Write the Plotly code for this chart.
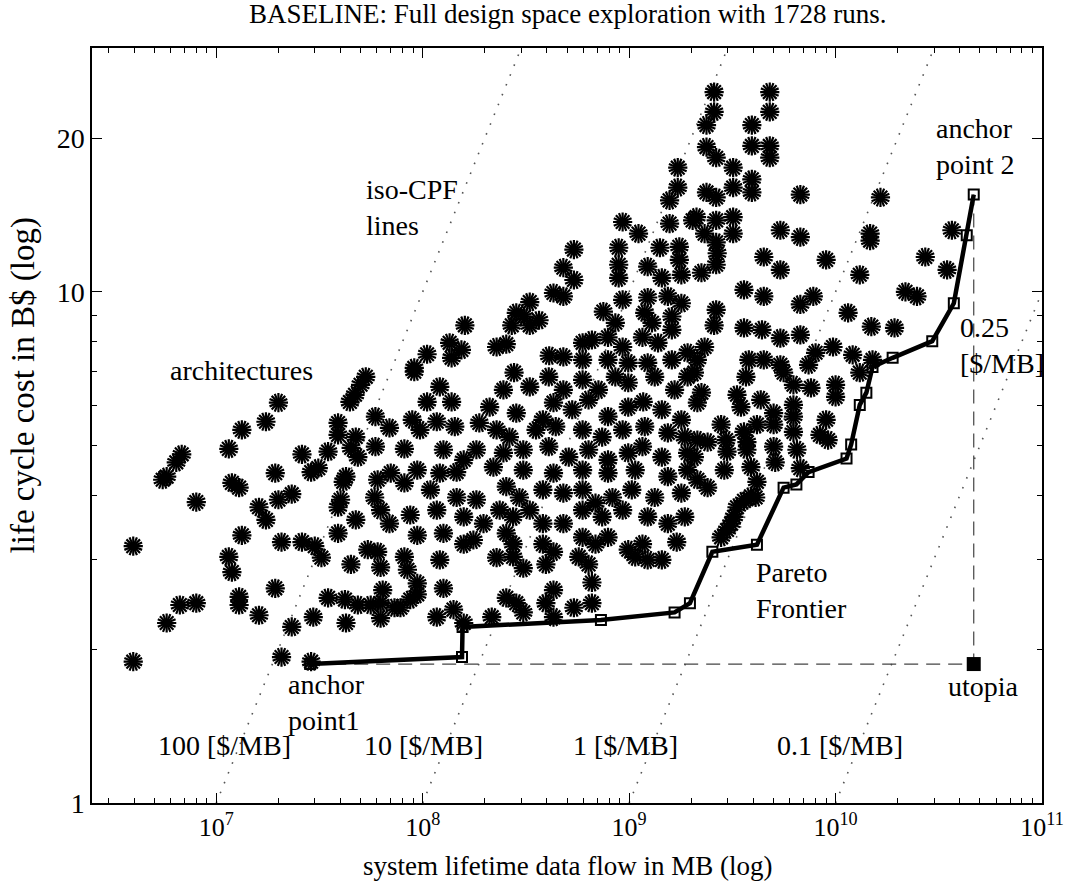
import plotly.graph_objects as go

# ---------------- data ----------------
# design-space architectures: system lifetime data flow [MB] and life cycle cost [B$]
arch_flow = [
    1.72e9, 1.72e9, 1.57e9, 9.3e8, 1.57e9, 2.03e9, 1.11e9, 5.4e8, 8.9e8, 1.41e9,
    1.75e9, 1.75e9, 8.9e8, 1.23e9, 4.8e8, 5.4e8, 8.9e8, 1.44e9, 1.79e9, 4.3e8,
    4.8e8, 9.3e8, 1.23e9, 1.54e9, 1.79e9, 3.3e8, 2.84e8, 3.1e8, 3.66e8, 2.7e8,
    3.3e8, 7.5e8, 8.57e8, 1.19e9, 1.29e9, 1.61e9, 1.6e8, 1.35e8, 1.54e8, 1.38e8,
    1.05e8, 2.28e8, 2.54e8, 9.1e7, 6.6e8, 5.95e8, 7.9e8, 9.3e8, 1.16e9, 1.38e9,
    1.61e9, 4.1e8, 4.8e8, 5.95e8, 7.9e8, 9.9e8, 1.23e9, 1.61e9, 1.92e9,
    2.58e9, 4.8e9, 4.8e9, 2.58e9, 2.37e9, 3.93e9, 2.37e9, 3.93e9, 4.8e9, 4.8e9,
    2.64e9, 3.19e9, 3.93e9, 3.19e9, 3.93e9, 2.37e9, 2.64e9, 6.75e9, 1.65e10, 2.12e9,
    2.64e9, 3.19e9, 3.19e9, 2.32e9, 2.64e9, 5.4e9, 6.75e9, 1.47e10, 1.47e10, 2.67e9,
    2.64e9, 4.49e9, 5.4e9, 9.0e9, 1.31e10, 2.72e10, 3.47e10, 3.66e10, 2.24e9, 3.6e9,
    4.49e9, 6.75e9, 7.8e9, 2.18e10, 2.48e10, 2.64e9, 1.15e10, 2.58e9, 3.6e9, 4.4e9,
    5.4e9, 6.75e9, 1.49e10, 1.93e10, 2.32e9, 2.14e9, 9.72e9, 8.0e9, 3.8e9, 4.49e9,
    5.4e9, 7.4e9, 1.21e10, 1.51e10,
    5.3e7, 5.0e7, 4.7e7, 4.44e7, 2.0e7, 1.74e7, 1.33e7, 1.15e7, 6.8e6, 6.4e6,
    5.75e6, 5.5e6, 3.89e7, 3.89e7, 4.74e7, 4.5e7, 4.85e7, 5.9e7, 6.9e7, 5.9e7,
    3.48e7, 2.6e7, 3.12e7, 2.88e7, 1.93e7, 4.25e7, 4.12e7, 1.19e7, 1.29e7, 8.0e6,
    1.61e7, 2.0e7, 2.32e7, 1.74e7, 4.0e7, 3.89e7, 7.0e7, 6.05e7, 5.85e7, 6.25e7,
    6.9e7, 4.74e7, 3.89e7, 1.33e7, 2.07e7, 2.6e7, 3.0e7, 3.23e7, 3.96e6, 1.15e7,
    1.19e7, 4.49e7, 5.42e7, 6.05e7, 6.25e7, 1.93e7, 1.29e7, 1.29e7, 6.66e6, 8.0e6,
    1.61e7, 3.48e7, 4.2e7, 4.85e7, 5.6e7, 6.4e7, 6.25e7, 7.3e7, 6.25e7, 2.95e7,
    4.25e7, 2.32e7, 5.75e6, 2.07e7, 3.96e6, 2.88e7,
    9.1e7, 2.77e8, 1.21e8, 1.05e8, 1.38e8, 2.46e8, 3.3e8, 4.08e8, 4.8e8, 5.95e8,
    7.1e8, 8.57e8, 9.9e8, 1.33e9, 1.66e9, 1.92e9, 2.11e8, 2.84e8, 3.82e8, 4.3e8,
    5.3e8, 6.36e8, 7.9e8, 9.9e8, 1.17e9, 1.44e9, 1.79e9, 8.9e7, 9.7e7, 1.17e8,
    1.43e8, 1.88e8, 2.28e8, 2.63e8, 3.54e8, 4.41e8, 5.95e8, 7.4e8, 9.3e8, 1.19e9,
    1.54e9, 1.86e9, 8.15e7, 1.26e8, 1.58e8, 1.82e8, 2.46e8, 3.07e8, 4.08e8, 5.1e8,
    6.36e8, 7.9e8, 9.9e8, 1.16e9, 1.44e9, 1.92e9, 9.41e7, 1.21e8, 1.46e8, 2.2e8,
    3.07e8, 4.3e8, 5.95e8, 7.9e8, 1.07e9, 1.54e9, 1.92e9, 8.15e7, 1.09e8, 1.46e8,
    1.82e8, 2.54e8, 2.94e8, 3.82e8, 4.8e8, 5.95e8, 6.87e8, 8.3e8, 1.03e9, 1.33e9,
    1.79e9, 8.7e7, 1.17e8, 1.58e8, 1.97e8, 2.36e8, 2.74e8, 3.3e8, 3.82e8, 4.8e8,
    5.95e8, 7.4e8, 9.3e8, 1.23e9, 1.54e9, 1.86e9, 9.41e7, 1.26e8, 1.58e8, 1.76e8,
    2.54e8, 2.74e8, 3.82e8, 4.3e8, 5.95e8, 6.87e8, 7.9e8, 9.9e8, 1.16e9, 1.44e9,
    1.7e9, 8.15e7, 1.21e8, 2.28e8, 2.74e8, 3.07e8, 3.95e8, 5.7e8, 6.36e8, 1.07e9,
    1.23e9, 8.43e7, 9.41e7, 1.26e8, 6.6e8, 8.7e7, 9.41e7, 7.8e7, 1.41e8, 1.17e8,
    2.54e8, 2.84e8, 3.07e8, 2.16e8, 4.3e8, 3.95e8, 4.3e8, 5.4e8, 6.6e8, 1.58e8,
    2.07e9, 3.68e9, 5.6e9, 1.31e10, 2.24e9, 3.33e9, 4.34e9, 6.25e9, 7.6e9, 1.0e10,
    1.0e10, 2.14e9, 3.48e9, 5.01e9, 6.25e9, 6.25e9, 9.0e9, 2.79e9, 3.6e9, 4.16e9,
    5.01e9, 6.25e9, 8.4e9, 9.2e9, 2.14e9, 2.4e9, 2.95e9, 3.72e9, 2.98e9, 3.72e9,
    6.5e9, 2.07e9, 2.89e9, 3.89e9, 5.1e9, 6.75e9, 2.14e9, 2.4e9, 4.16e9, 4.1e9,
    3.33e9, 3.22e9, 3.12e9, 2.98e9, 2.79e9, 3.6e9, 3.89e9, 5.01e9,
]
arch_cost = [
    17.5, 16.0, 15.1, 13.7, 13.6, 13.8, 13.0, 12.1, 12.2, 12.2,
    12.25, 11.55, 11.3, 11.2, 11.15, 10.55, 10.65, 10.65, 10.8, 9.95,
    9.8, 9.65, 9.75, 9.8, 9.5, 9.55, 9.1, 8.95, 8.8, 8.6,
    8.6, 9.15, 8.7, 9.1, 8.7, 8.95, 8.6, 7.95, 7.7, 7.43,
    7.55, 7.8, 7.9, 7.1, 8.05, 7.95, 8.15, 7.8, 8.15, 7.95,
    8.43, 7.5, 7.46, 7.36, 7.36, 7.26, 7.26, 7.36, 7.6,
    24.6, 24.6, 22.5, 22.5, 21.2, 21.2, 19.2, 19.3, 19.3, 18.3,
    18.3, 17.5, 16.6, 16.0, 15.65, 15.65, 15.3, 15.5, 15.3, 14.0,
    13.8, 14.0, 13.0, 13.0, 12.5, 13.2, 12.8, 13.0, 12.6, 11.9,
    11.3, 11.7, 11.04, 11.55, 10.8, 11.7, 11.04, 13.2, 10.9, 10.09,
    9.8, 9.45, 9.8, 10.0, 9.8, 9.22, 9.1, 8.6, 8.5, 8.43,
    8.12, 8.24, 8.55, 8.5, 7.8, 7.36, 7.8, 7.6, 7.36, 7.36,
    7.2, 7.2, 7.53, 7.36,
    6.82, 6.58, 6.29, 6.09, 6.07, 5.57, 5.37, 4.93, 4.81, 4.64,
    4.35, 4.29, 5.54, 5.25, 5.2, 4.95, 4.75, 5.7, 5.42, 4.98,
    4.87, 4.81, 4.52, 4.44, 4.42, 4.35, 4.25, 4.23, 4.14, 3.88,
    3.79, 3.92, 4.02, 3.58, 3.92, 3.79, 4.42, 4.29, 3.96, 3.74,
    3.52, 3.58, 3.37, 3.34, 3.24, 3.24, 3.18, 3.02, 3.18, 3.03,
    2.83, 2.93, 3.13, 3.1, 2.89, 2.63, 2.53, 2.44, 2.44, 2.46,
    2.33, 2.52, 2.5, 2.44, 2.44, 2.61, 2.46, 2.41, 2.3, 2.31,
    2.25, 2.21, 2.25, 1.93, 1.89, 1.89,
    6.98, 6.95, 6.52, 6.09, 6.09, 6.43, 6.52, 6.82, 6.43, 6.73,
    6.43, 6.82, 6.64, 6.82, 6.43, 6.82, 5.95, 5.79, 5.62, 6.07,
    5.88, 6.15, 5.7, 5.95, 6.09, 5.88, 5.62, 5.62, 5.37, 5.57,
    5.45, 5.54, 5.37, 5.2, 5.37, 5.45, 5.37, 5.2, 5.37, 5.45,
    5.3, 5.2, 4.93, 4.91, 4.69, 4.91, 4.84, 4.91, 4.98, 4.75,
    4.91, 4.69, 4.84, 4.98, 4.75, 4.84, 4.48, 4.42, 4.44, 4.54,
    4.48, 4.42, 4.48, 4.42, 4.48, 4.35, 4.48, 4.23, 4.1, 3.96,
    3.92, 4.16, 3.96, 4.1, 4.04, 4.1, 3.86, 3.96, 4.1, 3.96,
    4.04, 3.66, 3.74, 3.63, 3.52, 3.74, 3.63, 3.74, 3.52, 3.52,
    3.74, 3.63, 3.74, 3.63, 3.52, 3.63, 3.34, 3.37, 3.21, 3.27,
    3.37, 3.21, 3.21, 3.1, 3.31, 3.21, 3.31, 3.13, 3.21, 2.99,
    3.24, 3.03, 2.99, 3.02, 3.03, 2.88, 2.93, 3.03, 2.93, 3.03,
    2.99, 2.86, 2.69, 2.63, 2.7, 2.5, 2.56, 2.41, 2.39, 2.31,
    2.52, 2.46, 2.36, 2.31, 2.61, 2.46, 2.31, 2.41, 2.46, 2.25,
    6.95, 6.82, 6.95, 6.95, 6.35, 6.29, 6.15, 6.58, 6.49, 6.58,
    6.23, 6.07, 5.95, 5.79, 6.01, 5.7, 5.62, 5.5, 5.32, 5.5,
    5.5, 5.32, 5.25, 5.13, 5.13, 5.08, 5.13, 5.08, 4.87, 4.91,
    4.91, 4.75, 4.48, 4.54, 4.64, 4.52, 4.29, 4.14, 4.25, 3.96,
    3.79, 3.63, 3.52, 3.42, 3.31, 3.9, 3.98, 4.98,
]

# Pareto frontier (non-dominated architectures), anchor point1 -> anchor point 2
pareto_flow = [2.85e7, 1.55e8, 1.56e8, 7.3e8, 1.66e9, 1.97e9, 2.53e9, 4.16e9, 5.6e9,
               6.46e9, 7.4e9, 1.13e10, 1.19e10, 1.31e10, 1.41e10, 1.51e10, 1.89e10,
               2.94e10, 3.74e10, 4.32e10, 4.67e10]
pareto_cost = [1.87, 1.93, 2.21, 2.28, 2.36, 2.46, 3.1, 3.2, 4.14,
               4.2, 4.44, 4.72, 5.03, 6.01, 6.35, 7.13, 7.43,
               8.01, 9.5, 12.9, 15.5]

# utopia point (best flow of anchor 2, best cost of anchor 1)
utopia_flow = 4.67e10
utopia_cost = 1.87

# iso cost-per-function lines [$ / MB]
cpf_values = [100, 10, 1, 0.1]
cpf_labels = ["100 [$/MB]", "10 [$/MB]", "1 [$/MB]", "0.1 [$/MB]"]

# axis ticks
x_tick_vals = [1e7, 1e8, 1e9, 1e10, 1e11]
x_tick_text = ["10<sup>7</sup>", "10<sup>8</sup>", "10<sup>9</sup>", "10<sup>10</sup>", "10<sup>11</sup>"]
y_tick_vals = [1, 10, 20]
y_tick_text = ["1", "10", "20"]

X_MIN, X_MAX = 2.5e6, 1e11
Y_MIN, Y_MAX = 1, 30

# ---------------- figure ----------------
W, H = 1076, 885
L, R, T, B = 92, 28, 48, 82
FONT = "Liberation Serif"

fig = go.Figure()

# iso-CPF dotted lines: cost[B$] = cpf[$/MB] * flow[MB] / 1e9
for c in cpf_values:
    ys = [Y_MIN, Y_MAX]
    xs = [y * 1e9 / c for y in ys]
    fig.add_trace(go.Scatter(x=xs, y=ys, mode="lines",
                             line=dict(color="#555555", width=1.6, dash="1.6px,9px"),
                             hoverinfo="skip", showlegend=False))

# dashed lines to utopia point
fig.add_trace(go.Scatter(x=[pareto_flow[0], utopia_flow, utopia_flow],
                         y=[pareto_cost[0], utopia_cost, pareto_cost[-1]],
                         mode="lines", line=dict(color="#444444", width=1.2, dash="14px,8px"),
                         showlegend=False))

# architectures: heavy star-like asterisks (two rotated asterisks + solid core)
for ang in (0, 22.5):
    fig.add_trace(go.Scatter(x=arch_flow, y=arch_cost, mode="markers",
                             marker=dict(symbol="asterisk-open", size=16, color="black", angle=ang,
                                         line=dict(width=2.2, color="black")),
                             hoverinfo="skip" if ang else None, showlegend=False))
fig.add_trace(go.Scatter(x=arch_flow, y=arch_cost, mode="markers",
                         marker=dict(symbol="circle", size=8, color="black"),
                         hoverinfo="skip", showlegend=False))

# Pareto frontier
fig.add_trace(go.Scatter(x=pareto_flow, y=pareto_cost, mode="lines+markers",
                         line=dict(color="black", width=4.5),
                         marker=dict(symbol="square-open", size=10, color="black",
                                     line=dict(width=2, color="black")),
                         showlegend=False))

# utopia
fig.add_trace(go.Scatter(x=[utopia_flow], y=[utopia_cost], mode="markers",
                         marker=dict(symbol="square", size=14, color="black"),
                         showlegend=False))

pw, ph = W - L - R, H - T - B


def px(xp):
    return (xp - L) / pw


def py(yp):
    return (H - B - yp) / ph


annos = [
    ("iso-CPF<br>lines", 366, 208),
    ("architectures", 168, 370),
    ("anchor<br>point 2", 939, 147),
    ("0.25<br>[$/MB]", 963, 345),
    ("Pareto<br>Frontier", 758, 590),
    ("anchor<br>point1", 287, 702),
    ("utopia", 951, 686),
]
label_x = [156, 364, 574, 779]
for t, xl in zip(cpf_labels, label_x):
    annos.append((t, xl, 745))

annotations = []
for t, xa, ya in annos:
    annotations.append(dict(text=t, x=px(xa), y=py(ya), xref="paper", yref="paper",
                            xanchor="left", yanchor="middle", align="left", showarrow=False,
                            font=dict(family=FONT, size=28, color="black")))

# axis titles
annotations.append(dict(text="system lifetime data flow in MB (log)", x=0.5, y=py(866),
                        xref="paper", yref="paper", xanchor="center", yanchor="middle",
                        showarrow=False, font=dict(family=FONT, size=27, color="black")))
annotations.append(dict(text="life cycle cost in B$ (log)", x=px(23), y=py(385),
                        xref="paper", yref="paper", xanchor="center", yanchor="middle",
                        textangle=-90, showarrow=False,
                        font=dict(family=FONT, size=33, color="black")))
annotations.append(dict(text="BASELINE: Full design space exploration with 1728 runs.",
                        x=px(571), y=py(14), xref="paper", yref="paper",
                        xanchor="center", yanchor="middle", showarrow=False,
                        font=dict(family=FONT, size=27, color="black")))

x_minor = [m * 10 ** e for e in range(6, 11) for m in range(2, 10) if X_MIN <= m * 10 ** e <= X_MAX]
y_minor = [m for m in range(2, 10)]

fig.update_layout(
    width=W, height=H,
    margin=dict(l=L, r=R, t=T, b=B),
    paper_bgcolor="white", plot_bgcolor="white",
    annotations=annotations,
    xaxis=dict(type="log", range=[6.39794, 11], tickvals=x_tick_vals, ticktext=x_tick_text,
               ticks="inside", ticklen=10, tickwidth=1.2, tickcolor="black",
               showline=True, linecolor="black", linewidth=1.5, mirror="ticks",
               showgrid=False, zeroline=False,
               tickfont=dict(family=FONT, size=26, color="black"),
               minor=dict(tickvals=x_minor, ticks="inside", ticklen=5, tickcolor="black",
                          tickwidth=1, showgrid=False)),
    yaxis=dict(type="log", range=[0, 1.47712], tickvals=y_tick_vals, ticktext=y_tick_text,
               ticks="inside", ticklen=10, tickwidth=1.2, tickcolor="black",
               showline=True, linecolor="black", linewidth=1.5, mirror="ticks",
               showgrid=False, zeroline=False,
               tickfont=dict(family=FONT, size=28, color="black"),
               minor=dict(tickvals=y_minor, ticks="inside", ticklen=5, tickcolor="black",
                          tickwidth=1, showgrid=False)),
)

fig.write_html("out.html")
